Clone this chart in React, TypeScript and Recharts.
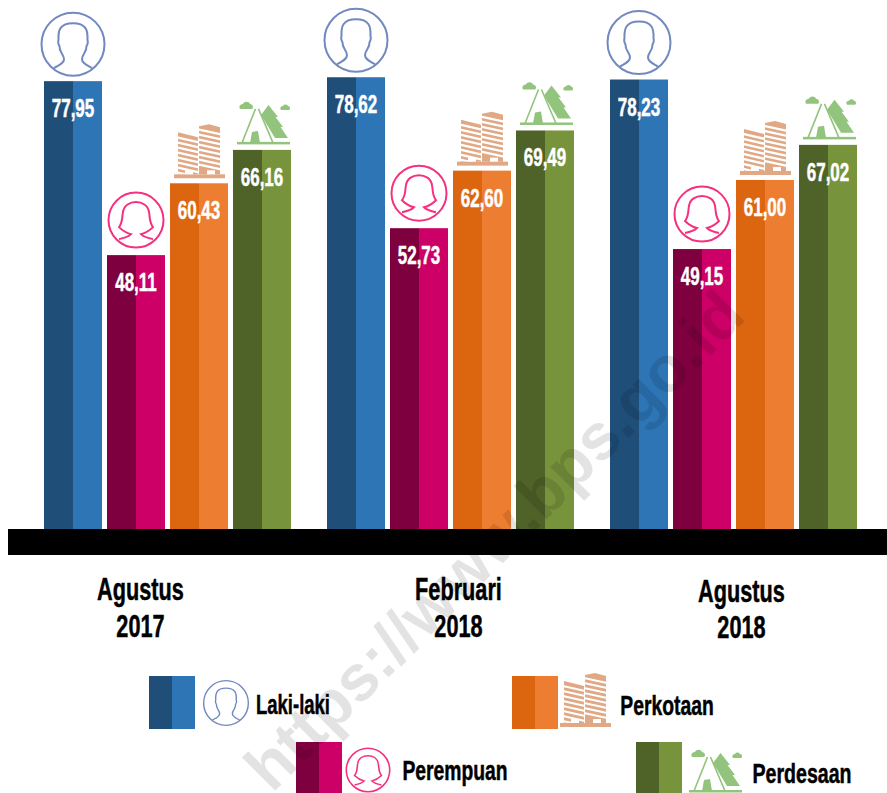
import React from 'react';
import { BarChart, Bar, XAxis, YAxis, Legend } from 'recharts';

const periods = ['Agustus 2017', 'Februari 2018', 'Agustus 2018'];
const lakiLaki = [77.95, 78.62, 78.23];
const perempuan = [48.11, 52.73, 49.15];
const perkotaan = [60.43, 62.6, 61.0];
const perdesaan = [66.16, 69.49, 67.02];

const tableData = periods.map((period, i) => ({
  period,
  lakiLaki: lakiLaki[i],
  perempuan: perempuan[i],
  perkotaan: perkotaan[i],
  perdesaan: perdesaan[i],
}));

const FONT = '"Liberation Sans Narrow", "Liberation Sans", sans-serif';
const tickNudge = [-27, 8, 8];
const tickDrop = [0, 0, 2];

const colors = {
  lakiLaki: ['#1f4e79', '#2e75b6'],
  perempuan: ['#7f003f', '#cc0066'],
  perkotaan: ['#dc6510', '#ed7d31'],
  perdesaan: ['#4f6228', '#77933c'],
};

function Narrow({ x, y, size, sx = 0.7, fill = '#000', children }: any) {
  return (
    <text
      transform={`translate(${x},${y}) scale(${sx},1)`}
      textAnchor='middle'
      fontFamily={FONT}
      fontWeight='bold'
      fontSize={size}
      fill={fill}
      stroke={fill}
      strokeWidth={0.5}
    >
      {children}
    </text>
  );
}

function ManIcon({ cx, cy, scale = 1 }: any) {
  return (
    <g transform={`translate(${cx},${cy}) scale(${scale})`} fill='none' stroke='#7189bf' strokeWidth={2}>
      <circle r={31.5} fill='#fff' />
      <path d='M -19 24 C -14 21 -9 19 -9 15 C -9 10 -14 8 -13.5 2 C -15 0 -15 -3 -14.5 -4 C -15 -14 -13 -21 0 -21 C 13 -21 15 -14 14.5 -4 C 15 -3 15 0 13.5 2 C 14 8 9 10 9 15 C 9 19 14 21 19 24' />
    </g>
  );
}

function WomanIcon({ cx, cy, scale = 1 }: any) {
  return (
    <g transform={`translate(${cx},${cy}) scale(${scale})`} fill='none' stroke='#f5317f' strokeWidth={2}>
      <circle r={27.5} fill='#fff' />
      <path d='M -17 19 C -12 18 -7 16 -5 14 C -9 13 -13 11 -17 7 C -13 2 -14 -4 -13 -8 C -12 -15 -6 -18 0 -18 C 6 -18 12 -15 13 -8 C 14 -4 13 2 17 7 C 13 11 9 13 5 14 C 7 16 12 18 17 19' />
    </g>
  );
}

const stripeRows = [5, 10, 15, 20, 25, 30, 35, 40];

function BuildingIcon({ x, y }: any) {
  return (
    <g transform={`translate(${x},${y})`}>
      <path d='M4 8 L24 13 L24 50 L4 50 Z' fill='#e0a884' />
      <path d='M25 2 L35 0 L46 3 L46 50 L25 50 Z' fill='#e0a884' />
      {stripeRows.map((r) => (
        <g key={r} stroke='#fff' strokeWidth={2.3}>
          <path d={`M3 ${r + 8} L25 ${r + 13}`} />
          <path d={`M24 ${r} L47 ${r + 5}`} />
        </g>
      ))}
      <rect x={0} y={50} width={51} height={4} fill='#e0a884' />
      <rect x={11} y={46} width={8} height={4} fill='#fff' />
      <rect x={33} y={46} width={8} height={4} fill='#fff' />
    </g>
  );
}

function TentIcon({ x, y }: any) {
  return (
    <g transform={`translate(${x},${y})`} fill='#93c47d'>
      <path d='M31.5 4 L41 16 L38.5 16 L46 26 L43.5 26 L51 37 L38 37 L24 14 Z' />
      <path d='M20 10 L37 42 L3 42 Z' fill='#fff' />
      <path d='M21.5 8 L36 42 M18.5 8 L5 42' fill='none' stroke='#93c47d' strokeWidth={1.6} />
      <path d='M13 42 L15 31 L21 30 L23 42 Z' />
      <rect x={0} y={41} width={53} height={2.5} />
      <path d='M3 8 C1 4 5 3 6 3 C7 0 12 0 13 3 C16 3 17 7 15 8 Z' />
      <path d='M44 9 C42 6 45 5 46 5 C47 3 50 3 51 5 C53 5 54 8 52 9 Z' />
    </g>
  );
}

function drawIcon(key: string, cx: number, top: number, barX: number) {
  if (key === 'lakiLaki') return <ManIcon cx={cx} cy={top - 37} />;
  if (key === 'perempuan') return <WomanIcon cx={cx} cy={top - 35} />;
  if (key === 'perkotaan') return <BuildingIcon x={barX + 4} y={top - 59} />;
  return <TentIcon x={barX + 4} y={top - 49} />;
}

function makeBar(key: string) {
  return function TwoToneBar(props: any) {
    const { x, y, width, height } = props;
    const half = width / 2;
    return (
      <g>
        <rect x={x} y={y} width={half} height={height} fill={colors[key][0]} />
        <rect x={x + half} y={y} width={half} height={height} fill={colors[key][1]} />
        {drawIcon(key, x + half, y, x)}
      </g>
    );
  };
}

function valueLabel(props: any) {
  const { x, y, width, value } = props;
  return (
    <Narrow x={x + width / 2} y={y + 36} size={25} sx={0.68} fill='#fff'>
      {Number(value).toFixed(2).replace('.', ',')}
    </Narrow>
  );
}

function PeriodTick({ x, y, payload, index }: any) {
  const [month, year] = payload.value.split(' ');
  const cx = x + tickNudge[index];
  return (
    <g>
      <Narrow x={cx} y={y + 71 + tickDrop[index]} size={31}>{month}</Narrow>
      <Narrow x={cx} y={y + 108 + tickDrop[index] / 2} size={31}>{year}</Narrow>
    </g>
  );
}

function Swatch({ x, y, h, tones }: any) {
  return (
    <g>
      <rect x={x} y={y} width={23} height={h} fill={tones[0]} />
      <rect x={x + 23} y={y} width={23} height={h} fill={tones[1]} />
    </g>
  );
}

function LegendBlock() {
  return (
    <svg width={887} height={133} style={{ display: 'block' }}>
      <g transform='translate(0,-660)'>
        <Swatch x={149} y={676} h={53} tones={colors.lakiLaki} />
        <ManIcon cx={226} cy={703} scale={0.71} />
        <Narrow x={293} y={714} size={28} sx={0.66}>Laki-laki</Narrow>
        <Swatch x={296} y={742} h={51} tones={colors.perempuan} />
        <WomanIcon cx={368} cy={770} scale={0.79} />
        <Narrow x={455} y={780} size={28} sx={0.69}>Perempuan</Narrow>
        <Swatch x={512} y={676} h={53} tones={colors.perkotaan} />
        <BuildingIcon x={560} y={673} />
        <Narrow x={667} y={715} size={28} sx={0.69}>Perkotaan</Narrow>
        <Swatch x={636} y={742} h={51} tones={colors.perdesaan} />
        <TentIcon x={689} y={749} />
        <Narrow x={802} y={783} size={28} sx={0.7}>Perdesaan</Narrow>
      </g>
    </svg>
  );
}

export default function App() {
  return (
    <div style={{ position: 'absolute', left: 0, top: 0, width: 887, height: 793, overflow: 'hidden', background: '#fff' }}>
      <svg width={887} height={793} style={{ position: 'absolute', left: 0, top: 0, zIndex: 2, pointerEvents: 'none' }}>
        <text
          transform='translate(272,794) rotate(-45)'
          fontFamily='"Liberation Sans", sans-serif'
          fontWeight='bold'
          fontSize={65}
          fill='#000'
          fillOpacity={0.11}
        >
          https://www.bps.go.id
        </text>
      </svg>
      <BarChart
        width={887}
        height={793}
        data={tableData}
        margin={{ top: 0, right: 12, bottom: 0, left: 26 }}
        barSize={58}
        barGap={5}
      >
        <XAxis
          dataKey='period'
          height={264}
          axisLine={false}
          tickLine={false}
          tickSize={0}
          tickMargin={0}
          interval={0}
          tick={PeriodTick}
        />
        <YAxis hide domain={[1.13, 91.87]} />
        <Bar dataKey='lakiLaki' isAnimationActive={false} shape={makeBar('lakiLaki')} label={valueLabel} />
        <Bar dataKey='perempuan' isAnimationActive={false} shape={makeBar('perempuan')} label={valueLabel} />
        <Bar dataKey='perkotaan' isAnimationActive={false} shape={makeBar('perkotaan')} label={valueLabel} />
        <Bar dataKey='perdesaan' isAnimationActive={false} shape={makeBar('perdesaan')} label={valueLabel} />
        <Legend
          verticalAlign='middle'
          content={LegendBlock}
          wrapperStyle={{ left: 0, top: 660, width: 887, height: 133 }}
        />
      </BarChart>
      <svg width={887} height={26} style={{ position: 'absolute', left: 0, top: 529, zIndex: 3 }}>
        <rect x={8} y={0} width={879} height={26} fill='#000' />
      </svg>
    </div>
  );
}
